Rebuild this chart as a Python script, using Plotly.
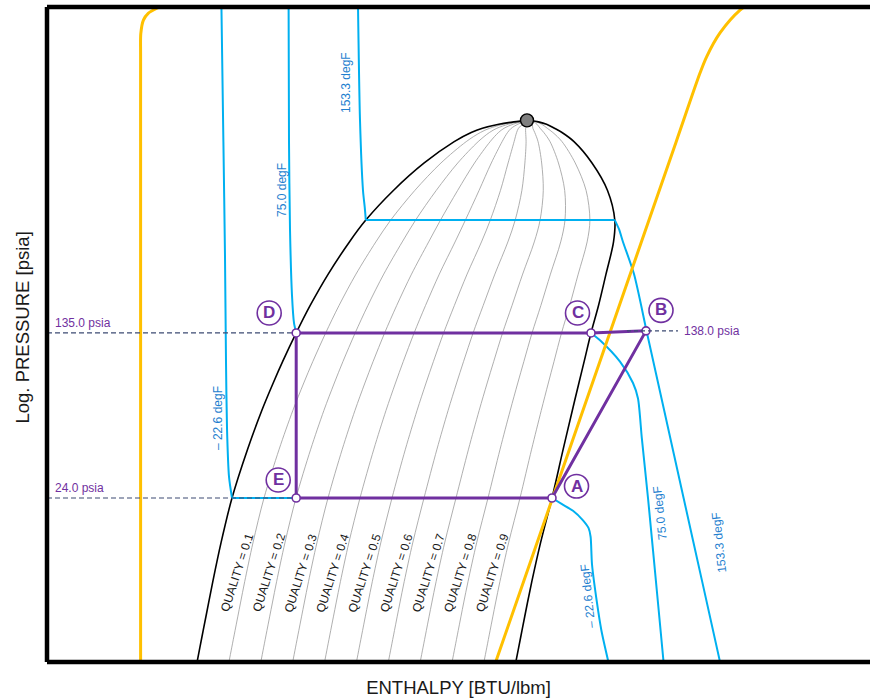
import numpy as np
import plotly.graph_objects as go

# ---------------- data: pressures in psia, enthalpy in BTU/lbm ----------------
# saturation dome, sampled on a common set of pressures
dome_p = [4.2, 5, 6, 8, 10, 15, 24, 40, 60, 80, 100, 135, 180, 250, 350, 440,
          600, 800, 1000, 1100, 1150, 1200, 1230, 1245]
dome_h_liq = [37.4, 38.2, 39.05, 40.4, 41.45, 43.5, 46.25, 50.15, 53.7, 56.55, 58.9, 62.3,
              65.8, 70.3, 75.6, 79.7, 86.6, 94.3, 101.8, 106.05, 108.85, 112.95, 116.7, 119.4]
dome_h_vap = [117.08, 117.9, 118.75, 120.1, 121.2, 123.38, 126.25, 129.05, 131.33, 132.98, 134.28, 136.0,
              137.88, 139.75, 141.63, 141.95, 140.13, 136.25, 131.75, 128.75, 126.88, 124.88, 122.88, 121.13]
crit_p, crit_h = 1250.0, 120.0

qualities = [0.1, 0.2, 0.3, 0.4, 0.5, 0.6, 0.7, 0.8, 0.9]
quality_label_p = 11.0

# isotherms: name, saturation pressure, liquid branch, vapour branch
iso_names = ["\u2013 22.6 degF", "75.0 degF", "153.3 degF"]
iso_psat = [24.0, 135.0, 440.0]
iso_liq_p = [[4200, 1000, 300, 100, 50, 30, 24],
             [4200, 1000, 400, 200, 150, 135],
             [4200, 1250, 600, 500, 440]]
iso_liq_h = [[43.6, 44.1, 44.5, 44.75, 45.0, 45.5, 46.25],
             [60.4, 60.5, 60.75, 61.25, 61.75, 62.3],
             [77.75, 78.25, 79.0, 79.45, 79.7]]
iso_vap_p = [[24, 22.5, 21, 19, 17.5, 16, 12, 8, 6, 4.2],
             [135, 125, 100, 80, 68, 45, 24, 8, 4.2],
             [440, 400, 350, 250, 135, 60, 24, 10, 4.2]]
iso_vap_h = [[126.25, 128.75, 131.5, 134.0, 135.4, 135.9, 136.25, 137.5, 138.6, 140.5],
             [136.0, 138.25, 143.25, 146.5, 147.75, 148.7, 150.25, 152.75, 154.2],
             [141.95, 143.0, 144.0, 146.75, 150.0, 154.3, 159.15, 163.8, 168.4]]
# label anchors (liquid side, vapour side)
iso_lbl_liq = [(42.75, 55.4), (58.75, 603.0), (74.75, 1847.0)]
iso_lbl_vap = [(135.25, 8.6), (153.25, 20.5), (168.0, 15.0)]

# constant-entropy lines
isen_p = [[4.2, 1000, 2500, 3100, 3570, 3830, 4000, 4150],
          [4.2, 24, 135, 1000, 2050, 2430, 3120, 3960, 4400]]
isen_h = [[23.4, 23.4, 23.4, 23.45, 24.1, 25.3, 27.0, 29.0],
          [111.95, 126.4, 140.7, 157.3, 163.25, 164.9, 168.25, 173.25, 177.0]]

# refrigeration cycle state points
cycle_names = ["E", "A", "B", "C", "D"]
cycle_h = [62.3, 126.25, 149.75, 136.0, 62.3]
cycle_p = [24.0, 24.0, 138.0, 135.0, 135.0]
low_p, high_p = 24.0, 135.0

# axis extents
H_RANGE = [0.0, 205.75]
LOGP_RANGE = [0.634757, 3.612029]

# ---------------- styling ----------------
PURPLE = "#7030A0"
BLUE = "#00B0F0"
BLUE_TXT = "#1F7FCF"
ORANGE = "#FFC000"
DASH = "#3D4B73"
FONT = "Liberation Sans, Arial, sans-serif"

fig = go.Figure()

# quality lines inside the dome
hl = np.array(dome_h_liq)
hv = np.array(dome_h_vap)
for q in qualities:
    hq = list(hl + q * (hv - hl)) + [crit_h]
    pq = list(dome_p) + [crit_p]
    fig.add_trace(go.Scatter(x=hq, y=pq, mode="lines",
                             line=dict(color="#9A9A9A", width=0.8, shape="spline", smoothing=0.9),
                             hoverinfo="skip", showlegend=False))

# saturation dome
dome_x = list(dome_h_liq) + [crit_h] + list(dome_h_vap[::-1])
dome_y = list(dome_p) + [crit_p] + list(dome_p[::-1])
fig.add_trace(go.Scatter(x=dome_x, y=dome_y, mode="lines",
                         line=dict(color="black", width=1.6, shape="spline", smoothing=0.9),
                         hoverinfo="skip", showlegend=False))

# isotherms
for i in range(3):
    for xs, ys, shp in [(iso_liq_h[i], iso_liq_p[i], "spline"),
                        ([iso_liq_h[i][-1], iso_vap_h[i][0]], [iso_psat[i], iso_psat[i]], "linear"),
                        (iso_vap_h[i], iso_vap_p[i], "spline")]:
        fig.add_trace(go.Scatter(x=xs, y=ys, mode="lines",
                                 line=dict(color=BLUE, width=2, shape=shp, smoothing=0.7),
                                 hoverinfo="skip", showlegend=False))

# isentropes
for xs, ys in zip(isen_h, isen_p):
    fig.add_trace(go.Scatter(x=xs, y=ys, mode="lines",
                             line=dict(color=ORANGE, width=3, shape="spline", smoothing=0.8),
                             hoverinfo="skip", showlegend=False))

# dashed pressure guides to the axis
for p_lvl, h_end in [(high_p, cycle_h[4]), (low_p, cycle_h[0])]:
    fig.add_trace(go.Scatter(x=[H_RANGE[0], h_end], y=[p_lvl, p_lvl], mode="lines",
                             line=dict(color=DASH, width=1.2, dash="5px,3px"),
                             hoverinfo="skip", showlegend=False))

# cycle path E-A-B-C-D-E
path_h = cycle_h + [cycle_h[0]]
path_p = cycle_p + [cycle_p[0]]
fig.add_trace(go.Scatter(x=path_h, y=path_p, mode="lines",
                         line=dict(color=PURPLE, width=3),
                         hoverinfo="skip", showlegend=False))
fig.add_trace(go.Scatter(x=cycle_h, y=cycle_p, mode="markers",
                         marker=dict(size=8, color="white", line=dict(color=PURPLE, width=1.6)),
                         hoverinfo="skip", showlegend=False))

# critical point
fig.add_trace(go.Scatter(x=[crit_h], y=[crit_p], mode="markers",
                         marker=dict(size=13, color="#7F7F7F", line=dict(color="black", width=1.4)),
                         hoverinfo="skip", showlegend=False))

shapes = []
annotations = []

# frame
for x0, y0, x1, y1 in [(0, 0, 0, 1), (0, 1, 1, 1), (0, 0, 1, 0)]:
    shapes.append(dict(type="line", xref="paper", yref="paper", x0=x0, y0=y0, x1=x1, y1=y1,
                       line=dict(color="black", width=4.5), layer="above"))

# circled state labels
lbl_off = {"D": (-27, 20), "E": (-18, 18), "C": (-13.5, 20), "B": (15, 20.5), "A": (24.5, 11.5)}
for name, h, p in zip(cycle_names, cycle_h, cycle_p):
    dx, dy = lbl_off[name]
    shapes.append(dict(type="circle", xref="x", yref="y", xsizemode="pixel", ysizemode="pixel",
                       xanchor=h, yanchor=p, x0=dx - 12, x1=dx + 12, y0=dy - 12, y1=dy + 12,
                       line=dict(color=PURPLE, width=1.6), fillcolor="white", layer="above"))
    annotations.append(dict(x=h, y=np.log10(p), xref="x", yref="y", text="<b>%s</b>" % name,
                            showarrow=False, xshift=dx, yshift=dy + 0.5,
                            font=dict(family=FONT, size=17, color=PURPLE)))

# pressure labels
for p_lvl in [high_p, low_p]:
    annotations.append(dict(x=0, xref="paper", y=np.log10(p_lvl), yref="y",
                            text="%.1f psia" % p_lvl, showarrow=False, xanchor="left",
                            xshift=6, yshift=10, font=dict(family=FONT, size=12, color=PURPLE)))
hB, pB = cycle_h[2], cycle_p[2]
shapes.append(dict(type="line", xref="x", yref="y", xsizemode="pixel", xanchor=hB,
                   x0=-19, x1=32, y0=pB, y1=pB, line=dict(color=DASH, width=1.2, dash="4px,3px")))
annotations.append(dict(x=hB, y=np.log10(pB), xref="x", yref="y", text="%.1f psia" % pB,
                        showarrow=False, xanchor="left", xshift=36,
                        font=dict(family=FONT, size=12, color=PURPLE)))

# isotherm labels
for i in range(3):
    hx, py = iso_lbl_liq[i]
    annotations.append(dict(x=hx, y=np.log10(py), xref="x", yref="y", text=iso_names[i],
                            showarrow=False, textangle=-90,
                            font=dict(family=FONT, size=12, color=BLUE_TXT)))
    hx, py = iso_lbl_vap[i]
    annotations.append(dict(x=hx, y=np.log10(py), xref="x", yref="y", text=iso_names[i],
                            showarrow=False, textangle=-96,
                            font=dict(family=FONT, size=12, color=BLUE_TXT)))

# quality labels, placed just left of each quality line
lp = np.log10(dome_p)
hf_l = np.interp(np.log10(quality_label_p), lp, hl)
hg_l = np.interp(np.log10(quality_label_p), lp, hv)
for q in qualities:
    annotations.append(dict(x=hf_l + q * (hg_l - hf_l), y=np.log10(quality_label_p), xref="x", yref="y",
                            text="QUALITY = %.1f" % q, showarrow=False, textangle=-72, xshift=-10,
                            font=dict(family=FONT, size=12, color="#1A1A1A")))

# vertical axis title
annotations.append(dict(x=0, y=0.5, xref="paper", yref="paper", text="Log. PRESSURE [psia]",
                        showarrow=False, textangle=-90, xanchor="center", yanchor="middle",
                        xshift=-25, yshift=7,
                        font=dict(family=FONT, size=18.5, color="#1A1A1A")))

fig.update_layout(
    width=870, height=700,
    margin=dict(l=47, r=0, t=7, b=38),
    paper_bgcolor="white", plot_bgcolor="white",
    font=dict(family=FONT, color="#1A1A1A"),
    shapes=shapes, annotations=annotations,
    showlegend=False,
    xaxis=dict(range=H_RANGE, showgrid=False, zeroline=False, showticklabels=False, ticks="",
               showline=False, title=dict(text="ENTHALPY [BTU/lbm]", standoff=19,
                                          font=dict(size=18.5, family=FONT, color="#1A1A1A"))),
    yaxis=dict(type="log", range=LOGP_RANGE, showgrid=False, zeroline=False, showticklabels=False,
               ticks="", showline=False),
)

fig.write_html("out.html")
